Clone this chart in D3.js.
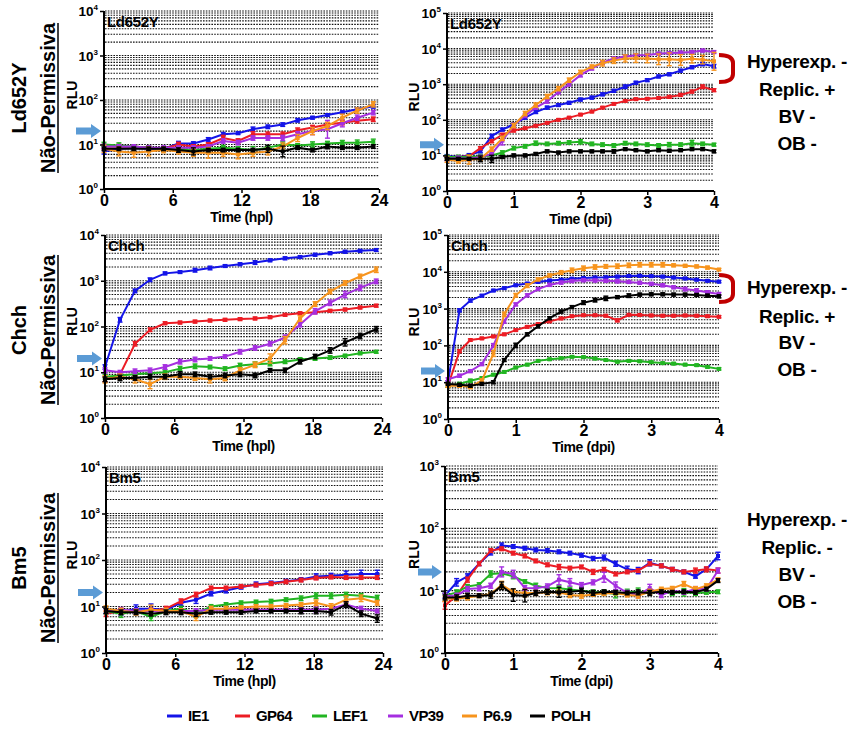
<!DOCTYPE html>
<html><head><meta charset="utf-8">
<script src="https://cdn.jsdelivr.net/npm/d3@7/dist/d3.min.js"></script>
<style>body{margin:0;background:#fff}svg{display:block}text{font-family:"Liberation Sans",Arial,sans-serif;font-weight:bold}</style>
</head><body>
<svg id="c" width="851" height="731"></svg>
<script>
const seriesNames = ["IE1","GP64","LEF1","VP39","P6.9","POLH"];
const seriesColors = ["#1414e8","#ec1c24","#22b522","#a52fe0","#f7941d","#000000"];
const cellLines = ["Ld652Y","Chch","Bm5"];
const statusLabel = "Não-Permissiva";
const hplTimes = [0,1.3,2.6,3.9,5.2,6.5,7.8,9.1,10.4,11.7,13.0,14.3,15.6,16.9,18.2,19.5,20.8,22.1,23.5];
const dpiTimes = [0,0.17,0.33,0.5,0.67,0.83,1.0,1.17,1.33,1.5,1.67,1.83,2.0,2.17,2.33,2.5,2.67,2.83,3.0,3.17,3.33,3.5,3.67,3.83,4.0];
const hplTicks = [0,6,12,18,24];
const dpiTicks = [0,1,2,3,4];
const phenotypes = [
  ["Hyperexp. -","Replic. +","BV -","OB -"],
  ["Hyperexp. -","Replic. +","BV -","OB -"],
  ["Hyperexp. -","Replic. -","BV -","OB -"]
];
const arrowValue = 20;

// Ld652Y hpl
const ldHpl_IE1  = [7,8,8.5,8,8,10.5,10.5,13,17,18,22,25,28,35,40,46,53,62,72];
const ldHpl_GP64 = [9,9,9,8.5,8,10,9,10,14,12,17,17,17,21,24,28,31,34,37];
const ldHpl_LEF1 = [10,9.5,9,8.5,8,8,7.5,8,8.5,8,7.5,8.5,10,9.5,10,10.5,11,11,11.5];
const ldHpl_VP39 = [9,9,9,8.5,8.5,8.5,8.5,9,12,11,14,14,14,17,20,22,30,40,52];
const ldHpl_P69  = [8,7,6.5,7,7.5,7,6.5,6.5,6.5,6,6.5,7,9,14,20,26,40,58,80];
const ldHpl_POLH = [8,8,8,8,8,7.5,7,7.5,7.5,7.5,7.5,8,7,8.5,7.5,9,8.5,8.5,9];
// error half-widths, hundredths of a decade
const ldHplErr_IE1  = [6,4,4,4,4,5,4,4,4,3,5,4,4,4,3,3,3,3,4];
const ldHplErr_GP64 = [5,5,4,4,4,5,4,4,6,5,6,5,5,5,5,5,5,5,5];
const ldHplErr_LEF1 = [5,6,4,4,4,4,4,8,5,5,8,4,6,4,6,5,5,6,6];
const ldHplErr_VP39 = [5,4,4,4,4,4,4,4,5,5,5,5,6,6,8,20,8,6,5];
const ldHplErr_P69  = [8,10,10,10,6,6,8,12,8,10,8,8,8,8,8,8,8,6,6];
const ldHplErr_POLH = [4,4,4,4,4,5,8,4,4,4,4,8,12,4,4,5,4,4,4];

// Ld652Y dpi
const ldDpi_IE1  = [9.6,9,10,13,35,53,75,115,165,220,260,300,370,420,520,650,850,1100,1300,1650,1900,2400,3000,3700,3200];
const ldDpi_GP64 = [9,9,9.5,16,25,38,50,58,68,82,100,115,140,170,220,280,340,380,390,410,440,500,620,850,680];
const ldDpi_LEF1 = [9,9,9,9.5,10,12,16,18,22,21,22,23,24,21,20,19,22,21,20,19,20,20,22,21,20];
const ldDpi_VP39 = [8,8.5,8,9,11,26,70,130,220,330,600,1000,1800,2800,4000,5300,6000,6500,6600,7200,7500,7700,8000,8800,8000];
const ldDpi_P69  = [7.7,7,7.5,8,15,30,70,150,260,450,750,1300,2200,3100,3900,4600,5300,5400,5300,5000,5000,4800,5200,4900,4400];
const ldDpi_POLH = [8,8,8,8,8,9,10,10,11,13,12,13,13,13,13,13,15,14,13,14,13.5,14,15,15,13];
const ldDpiErr_IE1  = [4,4,5,4,5,4,4,4,4,4,4,4,4,4,4,4,5,4,4,4,4,4,4,5,5];
const ldDpiErr_GP64 = [4,4,4,4,4,4,4,3,3,3,3,3,3,3,3,3,3,3,3,3,4,4,4,5,4];
const ldDpiErr_LEF1 = [5,5,5,5,5,5,5,5,6,5,5,5,6,5,5,5,5,5,5,5,6,5,8,5,4];
const ldDpiErr_VP39 = [5,5,5,5,5,12,5,5,5,5,5,5,5,5,5,4,4,4,4,4,4,4,4,4,4];
const ldDpiErr_P69  = [8,6,12,6,6,6,6,6,6,6,6,6,5,5,8,8,10,12,12,15,18,15,12,12,25];
const ldDpiErr_POLH = [4,4,4,8,10,4,4,4,4,4,4,4,4,4,4,5,4,4,4,4,4,4,4,4,4];

// Chch hpl
const chHpl_IE1  = [13,140,600,1050,1450,1550,1700,1900,2100,2300,2500,2800,3100,3300,3700,4000,4300,4500,4700];
const chHpl_GP64 = [7,9,42,85,118,122,128,135,140,145,150,160,180,195,205,220,235,260,285];
const chHpl_LEF1 = [8,8.5,9,9.5,10,12,13.5,13,12,14,15,15.5,17,19,20,21,23,26,28];
const chHpl_VP39 = [11,10,10.5,11,13,17,19,20,22,28,34,42,58,110,215,330,500,700,970];
const chHpl_P69  = [7,8,7,5.5,8,8,7.5,7,7.5,11,14.5,20,50,150,310,580,890,1240,1740];
const chHpl_POLH = [7,7.5,7.5,8,8,9,9,8,8.5,9,8.5,11,11,17,22,30,45,62,87];
const chHplErr_IE1  = [5,5,4,4,3,3,4,4,3,3,4,3,3,3,3,3,3,3,3];
const chHplErr_GP64 = [5,5,5,4,3,3,3,3,3,3,3,3,3,3,3,3,3,3,3];
const chHplErr_LEF1 = [5,4,4,4,5,5,5,4,4,5,5,5,4,4,4,4,3,3,3];
const chHplErr_VP39 = [6,4,5,5,5,5,5,4,4,5,5,5,5,5,6,6,7,6,5];
const chHplErr_P69  = [8,6,8,10,6,4,5,8,6,6,6,10,8,6,5,5,5,5,6];
const chHplErr_POLH = [5,6,5,5,5,6,5,5,5,5,5,4,5,5,5,6,8,6,6];

// Chch dpi
const chDpi_IE1  = [10,900,1650,2250,3100,3600,4300,4800,5300,5800,6100,6500,6800,7000,7100,7400,7700,7800,7600,7400,7000,6600,6100,5700,5400];
const chDpi_GP64 = [8,70,140,155,175,200,260,320,380,450,540,620,660,660,640,480,680,670,650,640,640,650,640,620,600];
const chDpi_LEF1 = [8,9,11,13,16,19,25,30,38,42,45,49,48,44,40,36,38,37,35,33,32,30,29,26,23];
const chDpi_VP39 = [12,15,20,31,100,450,1300,2300,3400,4400,5100,5600,5900,5800,5700,5500,5300,5000,4700,4300,3800,3400,3100,2800,2500];
const chDpi_P69  = [8,8,7.5,11,60,700,2300,4200,6200,8000,9600,11000,12500,13500,14000,14200,15000,15500,15500,15500,15000,14500,14000,13000,11500];
const chDpi_POLH = [9,8.5,8,9,10,40,100,200,330,550,830,1100,1450,1700,1900,2050,2250,2400,2450,2450,2400,2400,2350,2250,2150];
const chDpiErr_IE1  = [4,4,4,3,3,3,3,3,3,3,3,3,3,3,3,3,3,3,3,3,3,3,3,3,3];
const chDpiErr_GP64 = [4,4,3,3,3,3,3,3,3,3,3,3,3,3,3,4,3,3,3,3,3,3,3,3,3];
const chDpiErr_LEF1 = [4,4,4,3,3,3,3,3,3,3,3,3,3,3,3,3,3,3,3,3,3,3,3,3,3];
const chDpiErr_VP39 = [4,4,4,4,5,5,4,4,4,4,4,4,4,4,4,4,4,4,4,4,4,5,5,4,4];
const chDpiErr_P69  = [4,4,5,5,8,6,5,5,4,4,5,6,6,6,5,6,6,6,6,6,4,4,4,4,3];
const chDpiErr_POLH = [4,4,4,4,4,4,6,4,4,4,4,4,5,5,6,4,5,4,4,4,4,4,4,4,4];

// Bm5 hpl
const bmHpl_IE1  = [8,7.5,9,9,8.5,12,14,19,22,26,30,32,35,38,44,46,48,50,50];
const bmHpl_GP64 = [7,8,8,8,9,13,18,25,25,27,29,31,34,37,41,43,42,42,42];
const bmHpl_LEF1 = [8,7,8,6,8,9,7,10,11,12,12.5,13,14,15,17,17,18,17,15.5];
const bmHpl_VP39 = [8,8.5,8,8,8,8,8,8.5,8.5,8.5,8.5,8.5,8.5,8.5,8.5,9,11,9,8];
const bmHpl_P69  = [9,8,7.5,8.5,8,8,6,9,9,9.5,10,10,10.5,11,12,10,14,15,12];
const bmHpl_POLH = [8,7.5,7.5,7,7.5,7.5,7,7.5,7.5,7.5,8,8,8,8,8,7.5,11,7,5.5];
const bmHplErr_IE1  = [6,6,8,10,6,6,8,5,5,4,5,4,4,4,6,5,8,8,8];
const bmHplErr_GP64 = [6,5,5,6,5,5,5,4,4,4,4,4,4,4,4,4,4,4,4];
const bmHplErr_LEF1 = [6,8,5,8,5,5,8,4,4,4,4,4,4,5,6,6,5,5,5];
const bmHplErr_VP39 = [5,5,5,5,5,5,5,4,4,4,4,4,4,5,6,5,6,5,4];
const bmHplErr_P69  = [6,6,6,10,6,5,8,5,5,4,4,4,4,4,6,6,8,7,5];
const bmHplErr_POLH = [5,5,5,5,5,5,6,4,4,4,4,4,4,6,6,6,6,6,8];

// Bm5 dpi
const bmDpi_IE1  = [8.3,13.6,17,27,41,53,51,48,45,44,42,40,37,33,34,27,22,21,28,25,22,20,17,22,36];
const bmDpi_GP64 = [5.8,8.3,15,27,44,47,40,36,30,26,24,23,24,20,22,18.5,20,21,27,25,22,20,21,22,21];
const bmDpi_LEF1 = [8.3,9.4,11.7,12.5,18.5,19,17,14,12,11,10.9,10.4,10,9.4,9.4,8.8,9.4,9.6,9.6,9.6,9.2,9.4,9.2,9.4,9.6];
const bmDpi_VP39 = [8.3,8.3,10.6,10.9,12,20,18.5,11,10.9,11.7,15,13.6,12.3,13.6,16.4,12,9.2,8.5,11,8.5,10,9.4,10.6,10.6,21];
const bmDpi_P69  = [7.4,7.5,7.8,8.3,8.8,12.3,9.6,9.2,9.2,9.4,9.4,8.5,8.3,8.7,9,9.2,8.5,8.3,9.6,10.6,10.9,12.8,10.6,12,15];
const bmDpi_POLH = [7.8,7.8,8.3,8.3,8.5,12,8.5,8.3,9.2,9.6,9.4,9.6,10,9.2,9.6,9.4,9.2,9.4,9.2,9.6,9.4,9.6,9.4,10.6,14.5];
const bmDpiErr_IE1  = [4,6,4,3,4,4,3,3,3,3,3,3,3,3,4,4,5,5,5,3,3,3,3,3,6];
const bmDpiErr_GP64 = [6,4,4,3,3,3,3,3,3,3,4,3,3,4,3,3,3,3,3,3,3,3,4,4,4];
const bmDpiErr_LEF1 = [4,4,3,3,5,4,4,3,4,4,4,4,6,4,4,6,5,6,4,4,4,6,4,3,3];
const bmDpiErr_VP39 = [4,4,4,4,4,8,6,4,4,4,8,6,4,4,8,6,4,4,6,4,3,3,4,3,4];
const bmDpiErr_P69  = [4,4,4,3,3,6,4,6,4,4,4,4,4,3,3,3,3,4,4,3,3,4,4,3,3];
const bmDpiErr_POLH = [4,4,4,3,5,6,10,10,4,4,8,4,4,4,3,3,3,4,4,3,3,3,3,3,3];

// ---------- layout ----------
const FONT = '"Liberation Sans", Arial, sans-serif';
const svg = d3.select("#c");

const panels = [
  {row:0, unit:"hpl", times:hplTimes, ticks:hplTicks, xMax:24, maxExp:4, box:[104,379,11,189],
   vals:[ldHpl_IE1,ldHpl_GP64,ldHpl_LEF1,ldHpl_VP39,ldHpl_P69,ldHpl_POLH],
   errs:[ldHplErr_IE1,ldHplErr_GP64,ldHplErr_LEF1,ldHplErr_VP39,ldHplErr_P69,ldHplErr_POLH]},
  {row:0, unit:"dpi", times:dpiTimes, ticks:dpiTicks, xMax:4, maxExp:5, box:[447,714,13,191],
   vals:[ldDpi_IE1,ldDpi_GP64,ldDpi_LEF1,ldDpi_VP39,ldDpi_P69,ldDpi_POLH],
   errs:[ldDpiErr_IE1,ldDpiErr_GP64,ldDpiErr_LEF1,ldDpiErr_VP39,ldDpiErr_P69,ldDpiErr_POLH]},
  {row:1, unit:"hpl", times:hplTimes, ticks:hplTicks, xMax:24, maxExp:4, box:[105,382,235,418],
   vals:[chHpl_IE1,chHpl_GP64,chHpl_LEF1,chHpl_VP39,chHpl_P69,chHpl_POLH],
   errs:[chHplErr_IE1,chHplErr_GP64,chHplErr_LEF1,chHplErr_VP39,chHplErr_P69,chHplErr_POLH]},
  {row:1, unit:"dpi", times:dpiTimes, ticks:dpiTicks, xMax:4, maxExp:5, box:[448,719,235,419],
   vals:[chDpi_IE1,chDpi_GP64,chDpi_LEF1,chDpi_VP39,chDpi_P69,chDpi_POLH],
   errs:[chDpiErr_IE1,chDpiErr_GP64,chDpiErr_LEF1,chDpiErr_VP39,chDpiErr_P69,chDpiErr_POLH]},
  {row:2, unit:"hpl", times:hplTimes, ticks:hplTicks, xMax:24, maxExp:4, box:[106,383,467,653],
   vals:[bmHpl_IE1,bmHpl_GP64,bmHpl_LEF1,bmHpl_VP39,bmHpl_P69,bmHpl_POLH],
   errs:[bmHplErr_IE1,bmHplErr_GP64,bmHplErr_LEF1,bmHplErr_VP39,bmHplErr_P69,bmHplErr_POLH]},
  {row:2, unit:"dpi", times:dpiTimes, ticks:dpiTicks, xMax:4, maxExp:3, box:[445,718,466,653],
   vals:[bmDpi_IE1,bmDpi_GP64,bmDpi_LEF1,bmDpi_VP39,bmDpi_P69,bmDpi_POLH],
   errs:[bmDpiErr_IE1,bmDpiErr_GP64,bmDpiErr_LEF1,bmDpiErr_VP39,bmDpiErr_P69,bmDpiErr_POLH]}
];

panels.forEach(p => {
  const [x0,x1,yT,yB] = p.box;
  const x = d3.scaleLinear().domain([0,p.xMax]).range([x0,x1]);
  const y = d3.scaleLog().domain([1,Math.pow(10,p.maxExp)]).range([yB,yT]);
  const g = svg.append("g");

  // dotted grid at every minor log value
  const gridVals = [];
  for (let e=0;e<p.maxExp;e++) for (let k=1;k<=9;k++) { if (e===0 && k===1) continue; gridVals.push(k*Math.pow(10,e)); }
  gridVals.push(Math.pow(10,p.maxExp));
  g.append("g").selectAll("line").data(gridVals).join("line")
    .attr("x1",x0+1).attr("x2",x1).attr("y1",d=>y(d)).attr("y2",d=>y(d))
    .attr("stroke","#111").attr("stroke-width",1.1).attr("stroke-dasharray","1.6,1.2");

  // cell label inside plot
  g.append("text").attr("x",x0+3).attr("y",yT+16).attr("font-size",15).attr("fill","#000")
    .attr("letter-spacing",-0.3).text(cellLines[p.row]);

  // series
  p.vals.forEach((vals,si) => {
    const col = seriesColors[si];
    const pts = vals.map((v,i)=>({t:p.times[i], v, e:p.errs[si][i]/100}));
    const sg = g.append("g");
    sg.append("path").datum(pts)
      .attr("d", d3.line().x(d=>x(d.t)).y(d=>y(d.v)))
      .attr("fill","none").attr("stroke",col).attr("stroke-width",2);
    const eb = sg.selectAll("g.eb").data(pts).join("g");
    eb.append("line").attr("x1",d=>x(d.t)).attr("x2",d=>x(d.t))
      .attr("y1",d=>y(d.v*Math.pow(10,d.e))).attr("y2",d=>y(d.v/Math.pow(10,d.e)))
      .attr("stroke",col).attr("stroke-width",1.4);
    [1,-1].forEach(s=>{
      eb.append("line").attr("x1",d=>x(d.t)-2.5).attr("x2",d=>x(d.t)+2.5)
        .attr("y1",d=>y(d.v*Math.pow(10,s*d.e))).attr("y2",d=>y(d.v*Math.pow(10,s*d.e)))
        .attr("stroke",col).attr("stroke-width",1.4);
    });
    sg.selectAll("rect").data(pts).join("rect")
      .attr("x",d=>x(d.t)-2).attr("y",d=>y(d.v)-2).attr("width",4).attr("height",4).attr("fill",col);
  });

  // axes
  const decades = d3.range(0,p.maxExp+1).map(e=>Math.pow(10,e));
  const ya = g.append("g").attr("transform",`translate(${x0},0)`)
    .call(d3.axisLeft(y).tickValues(decades).tickFormat("").tickSize(4));
  ya.select(".domain").attr("stroke-width",2).attr("d",`M0,${yB}V${yT}`);
  ya.selectAll(".tick line").attr("stroke-width",1.5);
  decades.forEach((d,i)=>{
    const t = g.append("text").attr("x",x0-6).attr("y",y(d)+5).attr("text-anchor","end")
      .attr("font-size",13.5).attr("fill","#000");
    t.append("tspan").text("10");
    t.append("tspan").attr("dy",-6).attr("font-size",8).text(i);
  });
  const xa = g.append("g").attr("transform",`translate(0,${yB})`)
    .call(d3.axisBottom(x).tickValues(p.ticks).tickFormat(d3.format("d")).tickSize(4).tickPadding(2));
  xa.select(".domain").attr("stroke-width",2).attr("d",`M${x0-1},0H${x1}`);
  xa.selectAll(".tick line").attr("stroke-width",1.5);
  xa.selectAll(".tick text").attr("font-size",16).attr("font-family",FONT).attr("font-weight","bold").attr("fill","#000");

  g.append("text").attr("x",(x0+x1)/2).attr("y",yB+33).attr("text-anchor","middle")
    .attr("font-size",14).attr("letter-spacing",-0.4).text(`Time (${p.unit})`);

  // RLU label
  const rx = p.unit==="hpl" ? 77 : 419;
  g.append("text").attr("transform",`translate(${rx},${(yT+yB)/2-5}) rotate(-90)`)
    .attr("text-anchor","middle").attr("font-size",14).text("RLU");

  // reference arrow
  const ay = y(arrowValue);
  const ax1 = x0-3, axs = p.unit==="hpl" ? x0-28 : x0-27;
  g.append("path").attr("d",`M${axs},${ay-3.5}H${ax1-10}V${ay-7}L${ax1},${ay}L${ax1-10},${ay+7}V${ay+3.5}H${axs}Z`)
    .attr("fill","#5b9bd5");
});

// row labels
const rowCenters = [98, 330, 568];
rowCenters.forEach((cy,r)=>{
  svg.append("text").attr("transform",`translate(26,${cy}) rotate(-90)`).attr("text-anchor","middle")
    .attr("font-size",20).text(cellLines[r]);
  const t = svg.append("text").attr("transform",`translate(55,${cy}) rotate(-90)`).attr("text-anchor","middle")
    .attr("font-size",20).text(statusLabel);
  const len = t.node().getComputedTextLength();
  svg.append("line").attr("x1",58).attr("x2",58).attr("y1",cy-len/2).attr("y2",cy+len/2)
    .attr("stroke","#000").attr("stroke-width",1.5);
});

// phenotype texts
const phenoY = [[62,90,117,144],[288,317,343,370],[520,548,575,602]];
phenotypes.forEach((lines,r)=>{
  lines.forEach((s,i)=>{
    svg.append("text").attr("x",797).attr("y",phenoY[r][i]+6).attr("text-anchor","middle")
      .attr("font-size",19).attr("letter-spacing",-0.3).text(s);
  });
});
// red brackets for rows with Replic. +
[[55,82],[275,302]].forEach(([a,b])=>{
  svg.append("path").attr("d",`M719,${a} Q733,${a} 733,${a+8} L733,${b-8} Q733,${b} 719,${b}`)
    .attr("fill","none").attr("stroke","#c00000").attr("stroke-width",4);
});

// legend
const legX = [167,235,312,388,462,530];
const leg = svg.append("g");
seriesNames.forEach((n,i)=>{
  leg.append("line").attr("x1",legX[i]).attr("x2",legX[i]+15).attr("y1",716).attr("y2",716)
    .attr("stroke",seriesColors[i]).attr("stroke-width",3);
  leg.append("text").attr("x",legX[i]+21).attr("y",721).attr("font-size",15).attr("letter-spacing",-0.6).text(n);
});
</script>
</body></html>
